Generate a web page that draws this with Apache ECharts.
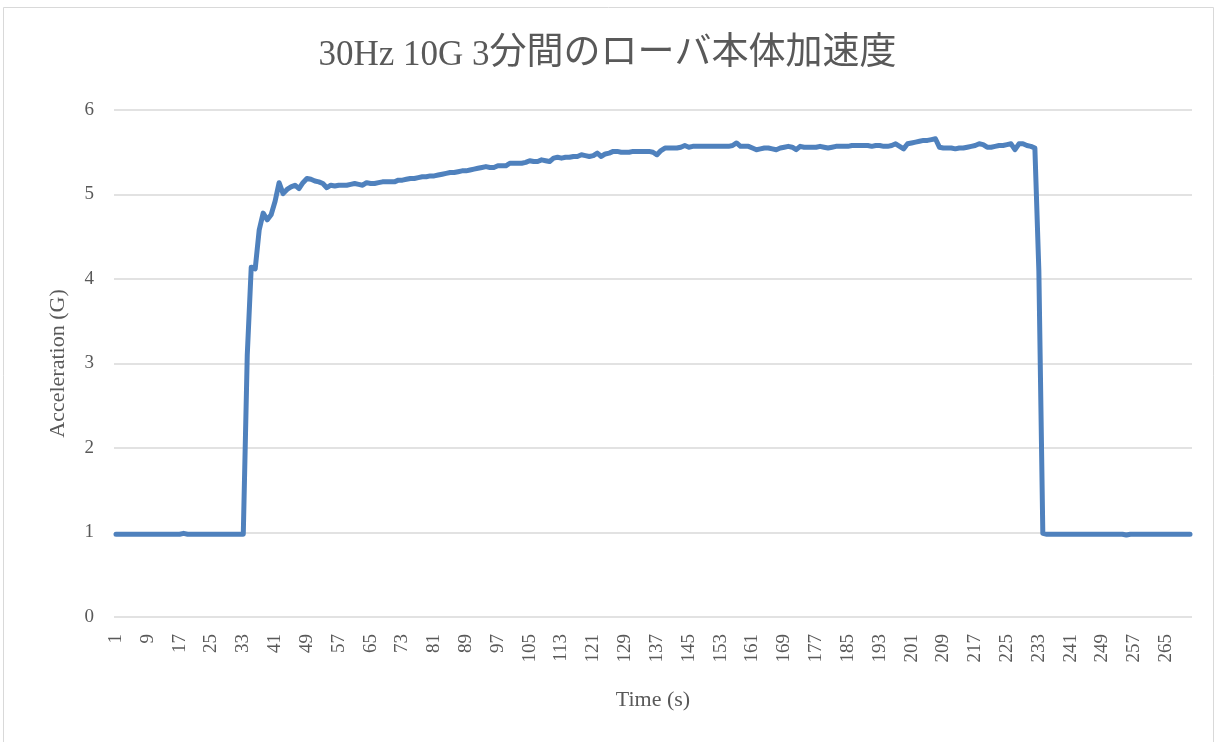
<!DOCTYPE html>
<html>
<head>
<meta charset="utf-8">
<script src="https://cdn.jsdelivr.net/npm/echarts@6/dist/echarts.min.js"></script>
<style>
  html, body { margin: 0; padding: 0; background: #fff; }
  #chart { width: 1215px; height: 742px; }
</style>
</head>
<body>
<div id="chart"></div>
<script>
// acceleration readings, one per second (1 .. 271)
const acceleration = [
  0.98, 0.98, 0.98, 0.98, 0.98, 0.98, 0.98, 0.98, 0.98, 0.98,
  0.98, 0.98, 0.98, 0.98, 0.98, 0.98, 0.98, 0.99, 0.98, 0.98,
  0.98, 0.98, 0.98, 0.98, 0.98, 0.98, 0.98, 0.98, 0.98, 0.98,
  0.98, 0.98, 0.98, 3.10, 4.14, 4.12, 4.58, 4.78, 4.70, 4.76,
  4.92, 5.14, 5.01, 5.06, 5.09, 5.11, 5.07, 5.14, 5.19, 5.18,
  5.16, 5.15, 5.13, 5.08, 5.11, 5.10, 5.11, 5.11, 5.11, 5.12,
  5.13, 5.12, 5.11, 5.14, 5.13, 5.13, 5.14, 5.15, 5.15, 5.15,
  5.15, 5.17, 5.17, 5.18, 5.19, 5.19, 5.20, 5.21, 5.21, 5.22,
  5.22, 5.23, 5.24, 5.25, 5.26, 5.26, 5.27, 5.28, 5.28, 5.29,
  5.30, 5.31, 5.32, 5.33, 5.32, 5.32, 5.34, 5.34, 5.34, 5.37,
  5.37, 5.37, 5.37, 5.38, 5.40, 5.39, 5.39, 5.41, 5.40, 5.39,
  5.43, 5.44, 5.43, 5.44, 5.44, 5.45, 5.45, 5.47, 5.46, 5.45,
  5.46, 5.49, 5.45, 5.48, 5.49, 5.51, 5.51, 5.50, 5.50, 5.50,
  5.51, 5.51, 5.51, 5.51, 5.51, 5.50, 5.47, 5.52, 5.55, 5.55,
  5.55, 5.55, 5.56, 5.58, 5.56, 5.57, 5.57, 5.57, 5.57, 5.57,
  5.57, 5.57, 5.57, 5.57, 5.57, 5.58, 5.61, 5.57, 5.57, 5.57,
  5.55, 5.53, 5.54, 5.55, 5.55, 5.54, 5.53, 5.55, 5.56, 5.57,
  5.56, 5.53, 5.57, 5.56, 5.56, 5.56, 5.56, 5.57, 5.56, 5.55,
  5.56, 5.57, 5.57, 5.57, 5.57, 5.58, 5.58, 5.58, 5.58, 5.58,
  5.57, 5.58, 5.58, 5.57, 5.57, 5.58, 5.60, 5.57, 5.54, 5.60,
  5.61, 5.62, 5.63, 5.64, 5.64, 5.65, 5.66, 5.56, 5.55, 5.55,
  5.55, 5.54, 5.55, 5.55, 5.56, 5.57, 5.58, 5.60, 5.59, 5.56,
  5.56, 5.57, 5.58, 5.58, 5.59, 5.60, 5.53, 5.60, 5.60, 5.58,
  5.57, 5.55, 4.10, 0.99, 0.98, 0.98, 0.98, 0.98, 0.98, 0.98,
  0.98, 0.98, 0.98, 0.98, 0.98, 0.98, 0.98, 0.98, 0.98, 0.98,
  0.98, 0.98, 0.98, 0.98, 0.97, 0.98, 0.98, 0.98, 0.98, 0.98,
  0.98, 0.98, 0.98, 0.98, 0.98, 0.98, 0.98, 0.98, 0.98, 0.98,
  0.98
];

// time labels: 1, 2, 3 ... (one per reading)
const seconds = acceleration.map((_, i) => String(i + 1));

const yTicks = [0, 1, 2, 3, 4, 5, 6];

const textColor = '#595959';
const gridColor = '#d9d9d9';
const fontFamily = '"Liberation Serif", "DejaVu Serif", "Noto Sans CJK JP", serif';

const chart = echarts.init(document.getElementById('chart'));

chart.setOption({
  backgroundColor: '#ffffff',
  animation: false,
  textStyle: { fontFamily: fontFamily, color: textColor },
  graphic: [
    {
      type: 'rect',
      shape: { x: 3.5, y: 7.5, width: 1210, height: 745 },
      style: { fill: 'none', stroke: gridColor, lineWidth: 1 },
      silent: true
    }
  ],
  title: {
    text: '{a|30Hz 10G 3}{b|分間のローバ本体加速度}',
    left: 'center',
    top: 28,
    textStyle: {
      fontFamily: fontFamily,
      fontWeight: 'normal',
      color: textColor,
      rich: {
        a: { fontFamily: fontFamily, fontSize: 35, color: textColor, verticalAlign: 'bottom', lineHeight: 40 },
        b: { fontFamily: fontFamily, fontSize: 37, color: textColor, verticalAlign: 'bottom', lineHeight: 40 }
      }
    }
  },
  grid: {
    left: 114,
    right: 23,
    top: 110,
    bottom: 125,
    containLabel: false
  },
  xAxis: {
    type: 'category',
    data: seconds,
    boundaryGap: true,
    name: 'Time (s)',
    nameLocation: 'middle',
    nameGap: 72,
    nameTextStyle: { fontFamily: fontFamily, fontSize: 22, color: textColor },
    axisLine: { show: false },
    axisTick: { show: false },
    axisLabel: {
      interval: 7,
      rotate: 90,
      margin: 17,
      fontSize: 19,
      color: textColor,
      fontFamily: fontFamily
    },
    splitLine: { show: false }
  },
  yAxis: {
    type: 'value',
    min: yTicks[0],
    max: yTicks[yTicks.length - 1],
    interval: 1,
    name: 'Acceleration (G)',
    nameLocation: 'middle',
    nameGap: 45,
    nameTextStyle: { fontFamily: fontFamily, fontSize: 22, color: textColor },
    axisLine: { show: false },
    axisTick: { show: false },
    axisLabel: {
      margin: 20,
      fontSize: 19,
      color: textColor,
      fontFamily: fontFamily
    },
    splitLine: { lineStyle: { color: gridColor, width: 1.5 } }
  },
  series: [
    {
      name: 'Acceleration',
      type: 'line',
      data: acceleration,
      showSymbol: false,
      symbol: 'none',
      lineStyle: { color: '#4f81bd', width: 5, cap: 'round', join: 'round' },
      itemStyle: { color: '#4f81bd' }
    }
  ]
});
</script>
</body>
</html>
